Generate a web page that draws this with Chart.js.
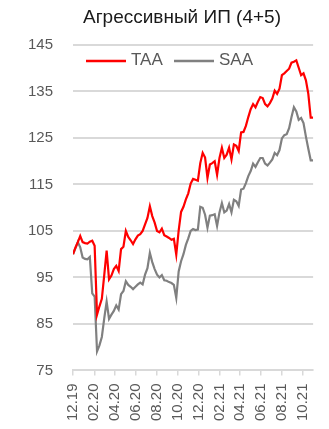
<!DOCTYPE html>
<html lang="ru">
<head>
<meta charset="utf-8">
<title>Агрессивный ИП (4+5)</title>
<script src="https://cdn.jsdelivr.net/npm/chart.js@4.4.1/dist/chart.umd.min.js"></script>
<style>
  html, body { margin: 0; padding: 0; background: #fff; }
  #wrap { width: 329px; height: 429px; }
</style>
</head>
<body>
<div id="wrap"><canvas id="chart" width="329" height="429"></canvas></div>
<script>
// Агрессивный ИП (4+5): TAA vs SAA, weekly, 100 = 12.2019
const TITLE = "Агрессивный ИП (4+5)";
const FONT = "'Liberation Sans', Arial, sans-serif";

const tickLabels = ["12.19", "02.20", "04.20", "06.20", "08.20", "10.20",
                    "12.20", "02.21", "04.21", "06.21", "08.21", "10.21"];

const seriesNames = ["TAA", "SAA"];

const taa = [
  100.0, 101.4, 102.6, 103.9, 102.6, 102.4, 102.3, 102.7, 102.9, 101.8,
  87.0, 88.8, 90.4, 95.5, 100.8, 94.6, 95.4, 96.8, 97.5, 96.4,
  101.1, 101.6, 105.0, 103.7, 103.0, 102.2, 103.2, 104.0, 104.3, 105.0,
  106.4, 107.8, 110.3, 108.2, 106.8, 105.0, 104.7, 105.5, 104.1, 103.8,
  103.5, 103.1, 103.3, 99.9, 105.1, 109.1, 110.2, 111.8, 113.1, 115.2,
  116.2, 116.0, 115.8, 119.6, 121.8, 120.8, 116.4, 119.3, 119.6, 120.0,
  117.1, 120.7, 122.9, 120.7, 121.4, 122.9, 120.4, 123.6, 123.3, 122.2,
  126.2, 126.3, 127.6, 129.5, 131.2, 132.3, 131.6, 132.8, 133.8, 133.6,
  132.3, 131.8, 132.5, 133.5, 135.2, 134.5, 135.6, 138.5, 138.9, 139.4,
  139.9, 141.2, 141.4, 141.7, 140.1, 138.5, 138.9, 137.4, 134.5, 129.4,
  129.4
];

const saa = [
  100.0, 101.3, 102.6, 101.5, 99.3, 99.0, 98.9, 99.4, 91.6, 90.9,
  79.1, 80.4, 82.2, 86.2, 89.8, 86.1, 87.0, 87.8, 89.0, 88.1,
  91.4, 92.1, 94.2, 93.4, 93.0, 92.5, 93.0, 93.5, 93.9, 93.5,
  95.6, 97.0, 100.3, 98.3, 96.8, 95.6, 95.0, 95.5, 94.4, 94.3,
  94.0, 93.8, 93.4, 90.6, 96.3, 98.5, 100.0, 102.0, 103.4, 105.0,
  105.4, 105.2, 105.3, 110.2, 110.0, 108.5, 105.7, 108.3, 108.4, 108.6,
  106.1, 109.0, 111.0, 109.0, 109.4, 110.8, 109.0, 111.7, 111.4, 110.4,
  113.9, 114.1, 115.3, 116.8, 117.9, 119.5, 118.8, 119.8, 120.7, 120.7,
  119.5, 119.1, 119.7, 120.4, 121.8, 121.3, 122.4, 124.9, 125.6, 125.8,
  127.1, 129.5, 131.6, 130.7, 128.9, 129.3, 128.2, 125.3, 122.7, 120.2,
  120.2
];

// x runs in days from 1 Dec 2019, one observation per week
const DAY_MS = 86400000;
const T0 = Date.UTC(2019, 11, 1);

function labelToDay(lbl) {
  const [m, y] = lbl.split(".").map(Number);
  return Math.round((Date.UTC(2000 + y, m - 1, 1) - T0) / DAY_MS);
}

const tickDays = tickLabels.map(labelToDay);
const toPoints = (arr) => arr.map((v, i) => ({ x: i * 7, y: v }));

// title + legend sit inside the top band, legend overlaps the empty plot corner
const headerPlugin = {
  id: "header",
  afterDraw(chart) {
    const { ctx } = chart;
    ctx.save();
    ctx.fillStyle = "#1a1a1a";
    ctx.font = `19px ${FONT}`;
    ctx.textAlign = "center";
    ctx.textBaseline = "alphabetic";
    ctx.fillText(TITLE, 182, 23);

    let x = 86;
    chart.data.datasets.forEach((ds) => {
      ctx.strokeStyle = ds.borderColor;
      ctx.lineWidth = 2.6;
      ctx.beginPath();
      ctx.moveTo(x, 61);
      ctx.lineTo(x + 40, 61);
      ctx.stroke();
      ctx.fillStyle = "#595959";
      ctx.font = `17px ${FONT}`;
      ctx.textAlign = "left";
      ctx.textBaseline = "middle";
      ctx.fillText(ds.label, x + 45, 60);
      x += 88;
    });
    ctx.restore();
  }
};

new Chart(document.getElementById("chart"), {
  type: "line",
  data: {
    datasets: [
      { label: seriesNames[0], data: toPoints(taa), borderColor: "#ff0000", borderWidth: 2.2, pointRadius: 0, tension: 0, fill: false },
      { label: seriesNames[1], data: toPoints(saa), borderColor: "#808080", borderWidth: 2.2, pointRadius: 0, tension: 0, fill: false }
    ]
  },
  options: {
    responsive: false,
    devicePixelRatio: 1,
    animation: false,
    layout: { padding: { top: 45, left: 8, right: 4, bottom: 0 } },
    plugins: { legend: { display: false }, title: { display: false }, tooltip: { enabled: false } },
    scales: {
      x: {
        type: "linear",
        min: 0,
        max: (taa.length - 1) * 7,
        afterBuildTicks: (axis) => { axis.ticks = tickDays.map((v) => ({ value: v })); },
        ticks: {
          autoSkip: false,
          minRotation: 90,
          maxRotation: 90,
          padding: 8,
          color: "#595959",
          font: { size: 15, family: FONT },
          callback: (v, i) => tickLabels[i]
        },
        grid: { drawOnChartArea: false, drawTicks: true, tickLength: 5, color: "#d9d9d9", lineWidth: 1.5 },
        border: { display: true, color: "#d9d9d9", width: 2 }
      },
      y: {
        min: 75,
        max: 145,
        ticks: { stepSize: 10, padding: 20, color: "#595959", font: { size: 15, family: FONT } },
        grid: { color: "#d9d9d9", lineWidth: 2, drawTicks: false },
        border: { display: false }
      }
    }
  },
  plugins: [headerPlugin]
});
</script>
</body>
</html>
